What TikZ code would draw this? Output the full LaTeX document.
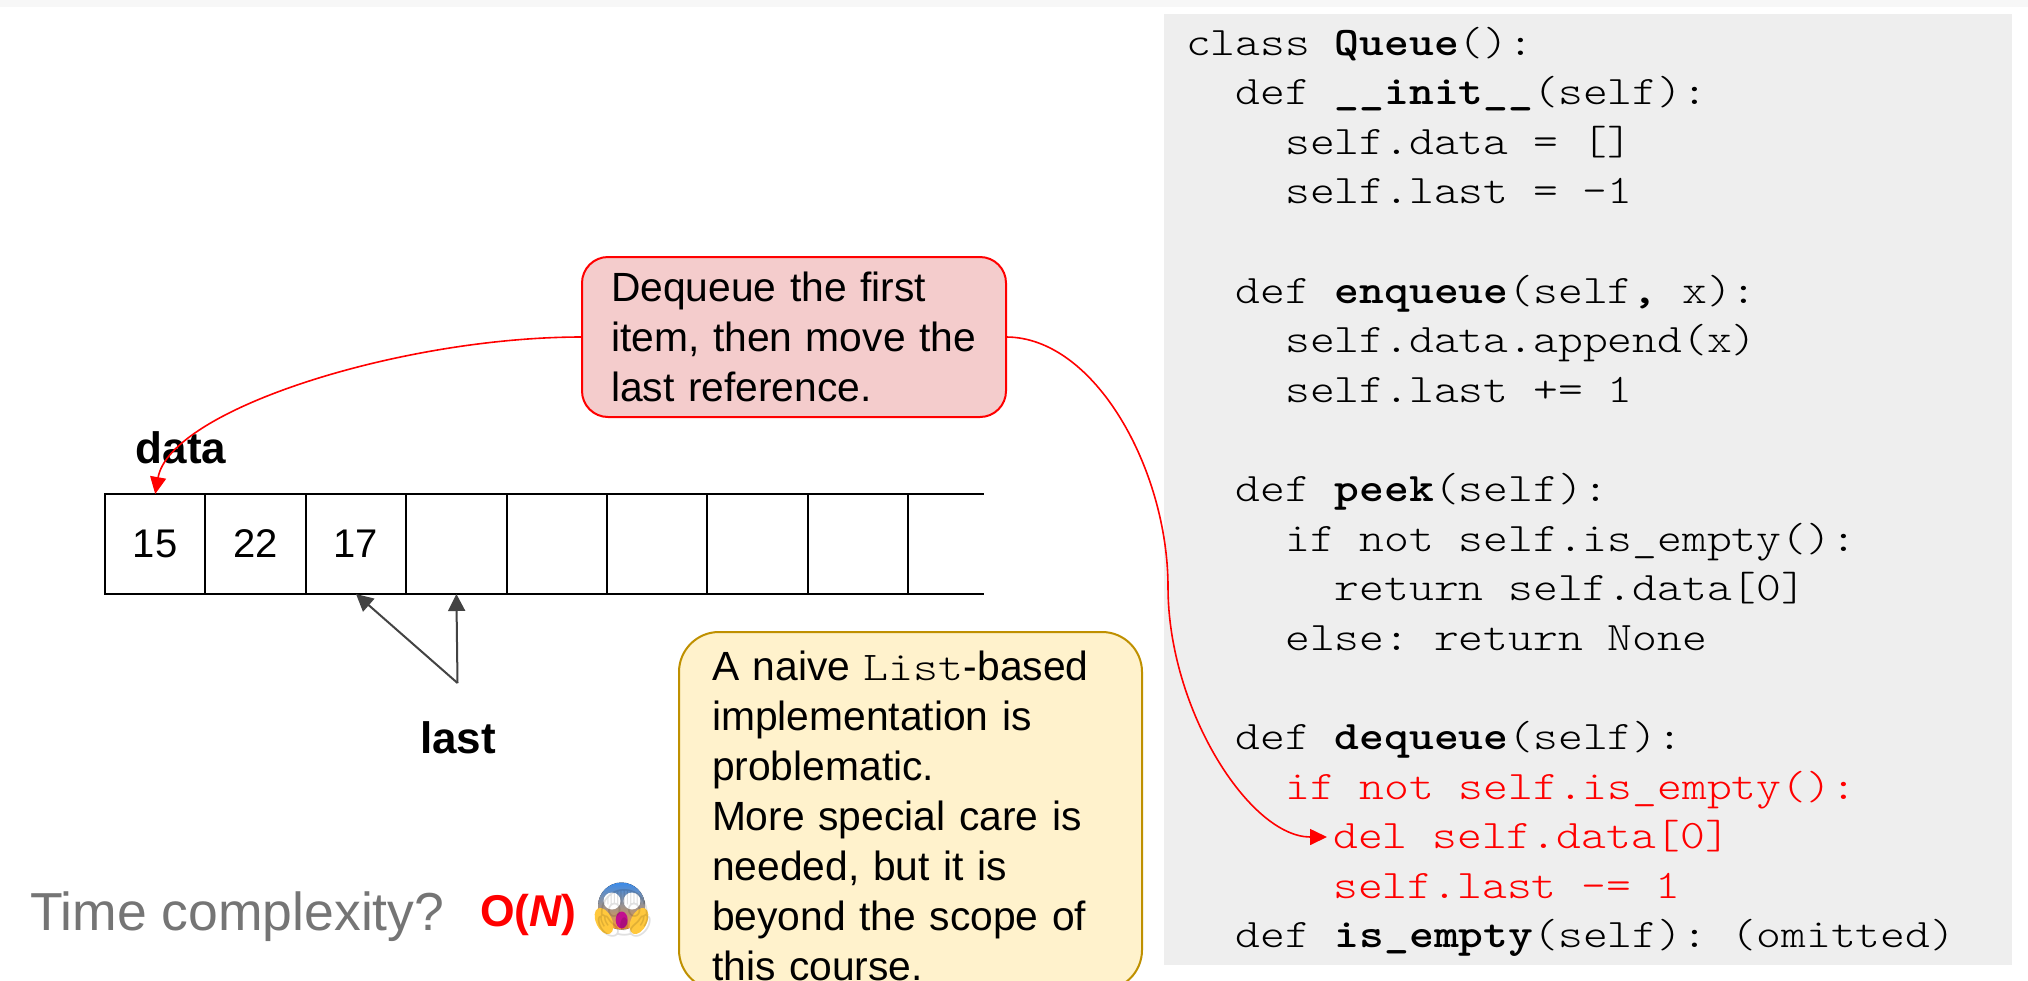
\documentclass[tikz,border=0pt]{standalone}
\usepackage{fontspec}
\usetikzlibrary{arrows.meta}
\setmainfont{Liberation Sans}
\newfontfamily\code[FakeStretch=1.167]{Latin Modern Mono Light}
\newfontfamily\emojifont{Noto Emoji}
\definecolor{pinkfill}{HTML}{F4CCCC}
\definecolor{yellowfill}{HTML}{FFF2CC}
\definecolor{yellowline}{HTML}{BF9000}
\definecolor{panel}{HTML}{EEEEEE}
\definecolor{arrowgray}{HTML}{434343}
\definecolor{timegray}{HTML}{757575}
\definecolor{emoblue}{HTML}{3B8BEA}
\definecolor{emomid}{HTML}{F9C77A}
\definecolor{emoorange}{HTML}{FF9A30}
\definecolor{emohand}{HTML}{FFC83D}
\definecolor{emomouth}{HTML}{C2108F}
\tikzset{
  x=1pt,y=-1pt,
  cell/.style={draw=black,line width=2pt,minimum width=100.4pt,minimum height=100pt,inner sep=0pt,outer sep=0pt,font=\fontsize{40}{40}\selectfont},
  codeline/.style={anchor=base west,inner sep=0pt,outer sep=0pt,font=\code\frenchspacing\fontsize{40.5}{49.6}\selectfont},
  redline/.style={codeline,text=red},
  callout/.style={rounded corners=26pt,line width=2pt,inner sep=0pt,outer sep=0pt,align=left,font=\fontsize{40.8}{50}\selectfont},
  pinkbox/.style={callout,draw=red,fill=pinkfill,minimum width=424pt,minimum height=160pt,text width=366pt},
  yellowbox/.style={callout,rounded corners=40pt,draw=yellowline,fill=yellowfill,minimum width=463pt,minimum height=358pt,text width=397pt},
  redarrow/.style={draw=red,line width=1.6pt,-{Triangle[length=17pt,width=16pt]}},
  grayarrow/.style={draw=arrowgray,line width=2pt,-{Triangle[length=17pt,width=17pt]}},
  boldlabel/.style={inner sep=0pt,anchor=base,font=\bfseries\fontsize{44}{44}\selectfont},
}
\begin{document}
\begin{tikzpicture}
\useasboundingbox (0,0) rectangle (2028,980);
\clip (0,0) rectangle (2028,980);
\fill[white] (0,0) rectangle (2028,980);
\fill[black!3] (0,0) rectangle (2028,7);
\fill[panel] (1164,14) rectangle (2012,965);

% code
\node[codeline] (c0) at (1186,55) {class {\bfseries Queue}():};
\node[codeline] (c1) at (1186,104.6) {~~def {\bfseries \_\_init\_\_}(self):};
\node[codeline] (c2) at (1186,154.2) {~~~~self.data = []};
\node[codeline] (c3) at (1186,203.8) {~~~~self.last = -1};
\node[codeline] (c5) at (1186,303) {~~def {\bfseries enqueue}(self{\bfseries,} x):};
\node[codeline] (c6) at (1186,352.6) {~~~~self.data.append(x)};
\node[codeline] (c7) at (1186,402.2) {~~~~self.last += 1};
\node[codeline] (c9) at (1186,501.4) {~~def {\bfseries peek}(self):};
\node[codeline] (c10) at (1186,551) {~~~~if not self.is\_empty():};
\node[codeline] (c11) at (1186,600.6) {~~~~~~return self.data[0]};
\node[codeline] (c12) at (1186,650.2) {~~~~else: return None};
\node[codeline] (c14) at (1186,749.4) {~~def {\bfseries dequeue}(self):};
\node[redline] (c15) at (1186,799) {~~~~if not self.is\_empty():};
\node[redline] (c16) at (1333.3,848.6) {del self.data[0]};
\node[redline] (c17) at (1333.3,898.2) {self.last -= 1};
\node[codeline] (c18) at (1186,947.8) {~~def {\bfseries is\_empty}(self): (omitted)};

% array
\node[cell] (cell0) at (155.2,544) {15};
\node[cell] (cell1) at (255.6,544) {22};
\node[cell] (cell2) at (356,544) {17};
\node[cell] (cell3) at (456.4,544) {};
\node[cell] (cell4) at (556.8,544) {};
\node[cell] (cell5) at (657.2,544) {};
\node[cell] (cell6) at (757.6,544) {};
\node[cell] (cell7) at (858,544) {};
\coordinate (topend) at (984,494);
\coordinate (botend) at (984,594);
\draw[line width=2pt] (cell7.north east) -- (topend);
\draw[line width=2pt] (cell7.south east) -- (botend);

% labels
\node[boldlabel] (data) at (181,463) {data};
\node[boldlabel] (last) at (458,753) {last};
\coordinate (root) at (457.5,683);
\draw[grayarrow] (root) -- (cell2.south);
\draw[grayarrow] (root) -- (cell3.south);

% callouts
\node[pinkbox] (deq) at (794,337) {Dequeue the first\\item, then move the\\last reference.};
\node[yellowbox] (naive) at (910.5,811) {\rule{0pt}{39pt}A naive {\code List}-based\\implementation is\\problematic.\\More special care is\\needed, but it is\\beyond the scope of\\this course.};

% connectors
\draw[redarrow] (deq.west) .. controls (400,337) and (170,410) .. (cell0.north);
\coordinate (del) at (1327,837);
\draw[redarrow] (deq.east) .. controls (1095,337) and (1168,470) .. (1168,587) .. controls (1168,710) and (1250,837) .. (del);

% bottom-left
\node[inner sep=0pt,anchor=base west,text=timegray,font=\fontsize{53.5}{53.5}\selectfont] (time) at (30,930) {Time complexity?};
\node[inner sep=0pt,anchor=base west,text=red,font=\bfseries\fontsize{44.5}{44.5}\selectfont] (bigo) at (480,926) {O({\itshape N})};
% emoji colours under the glyph
\fill[top color=emoblue,middle color=emomid,bottom color=emoorange] (621.5,906) circle[radius=23.5];
\fill[white] (612,901) circle[radius=8.5];
\fill[white] (632,901) circle[radius=8.5];
\fill[emomouth] (621.7,920) ellipse[x radius=6,y radius=8.5];
\fill[emohand,rotate around={25:(604,921)}] (604,921) ellipse[x radius=8,y radius=14];
\fill[emohand,rotate around={-25:(639,921)}] (639,921) ellipse[x radius=8,y radius=14];
\node[inner sep=0pt,anchor=base west,text opacity=0.12,font=\emojifont\fontsize{46}{46}\selectfont] (emoji) at (595,928) {😱};
\end{tikzpicture}
\end{document}
